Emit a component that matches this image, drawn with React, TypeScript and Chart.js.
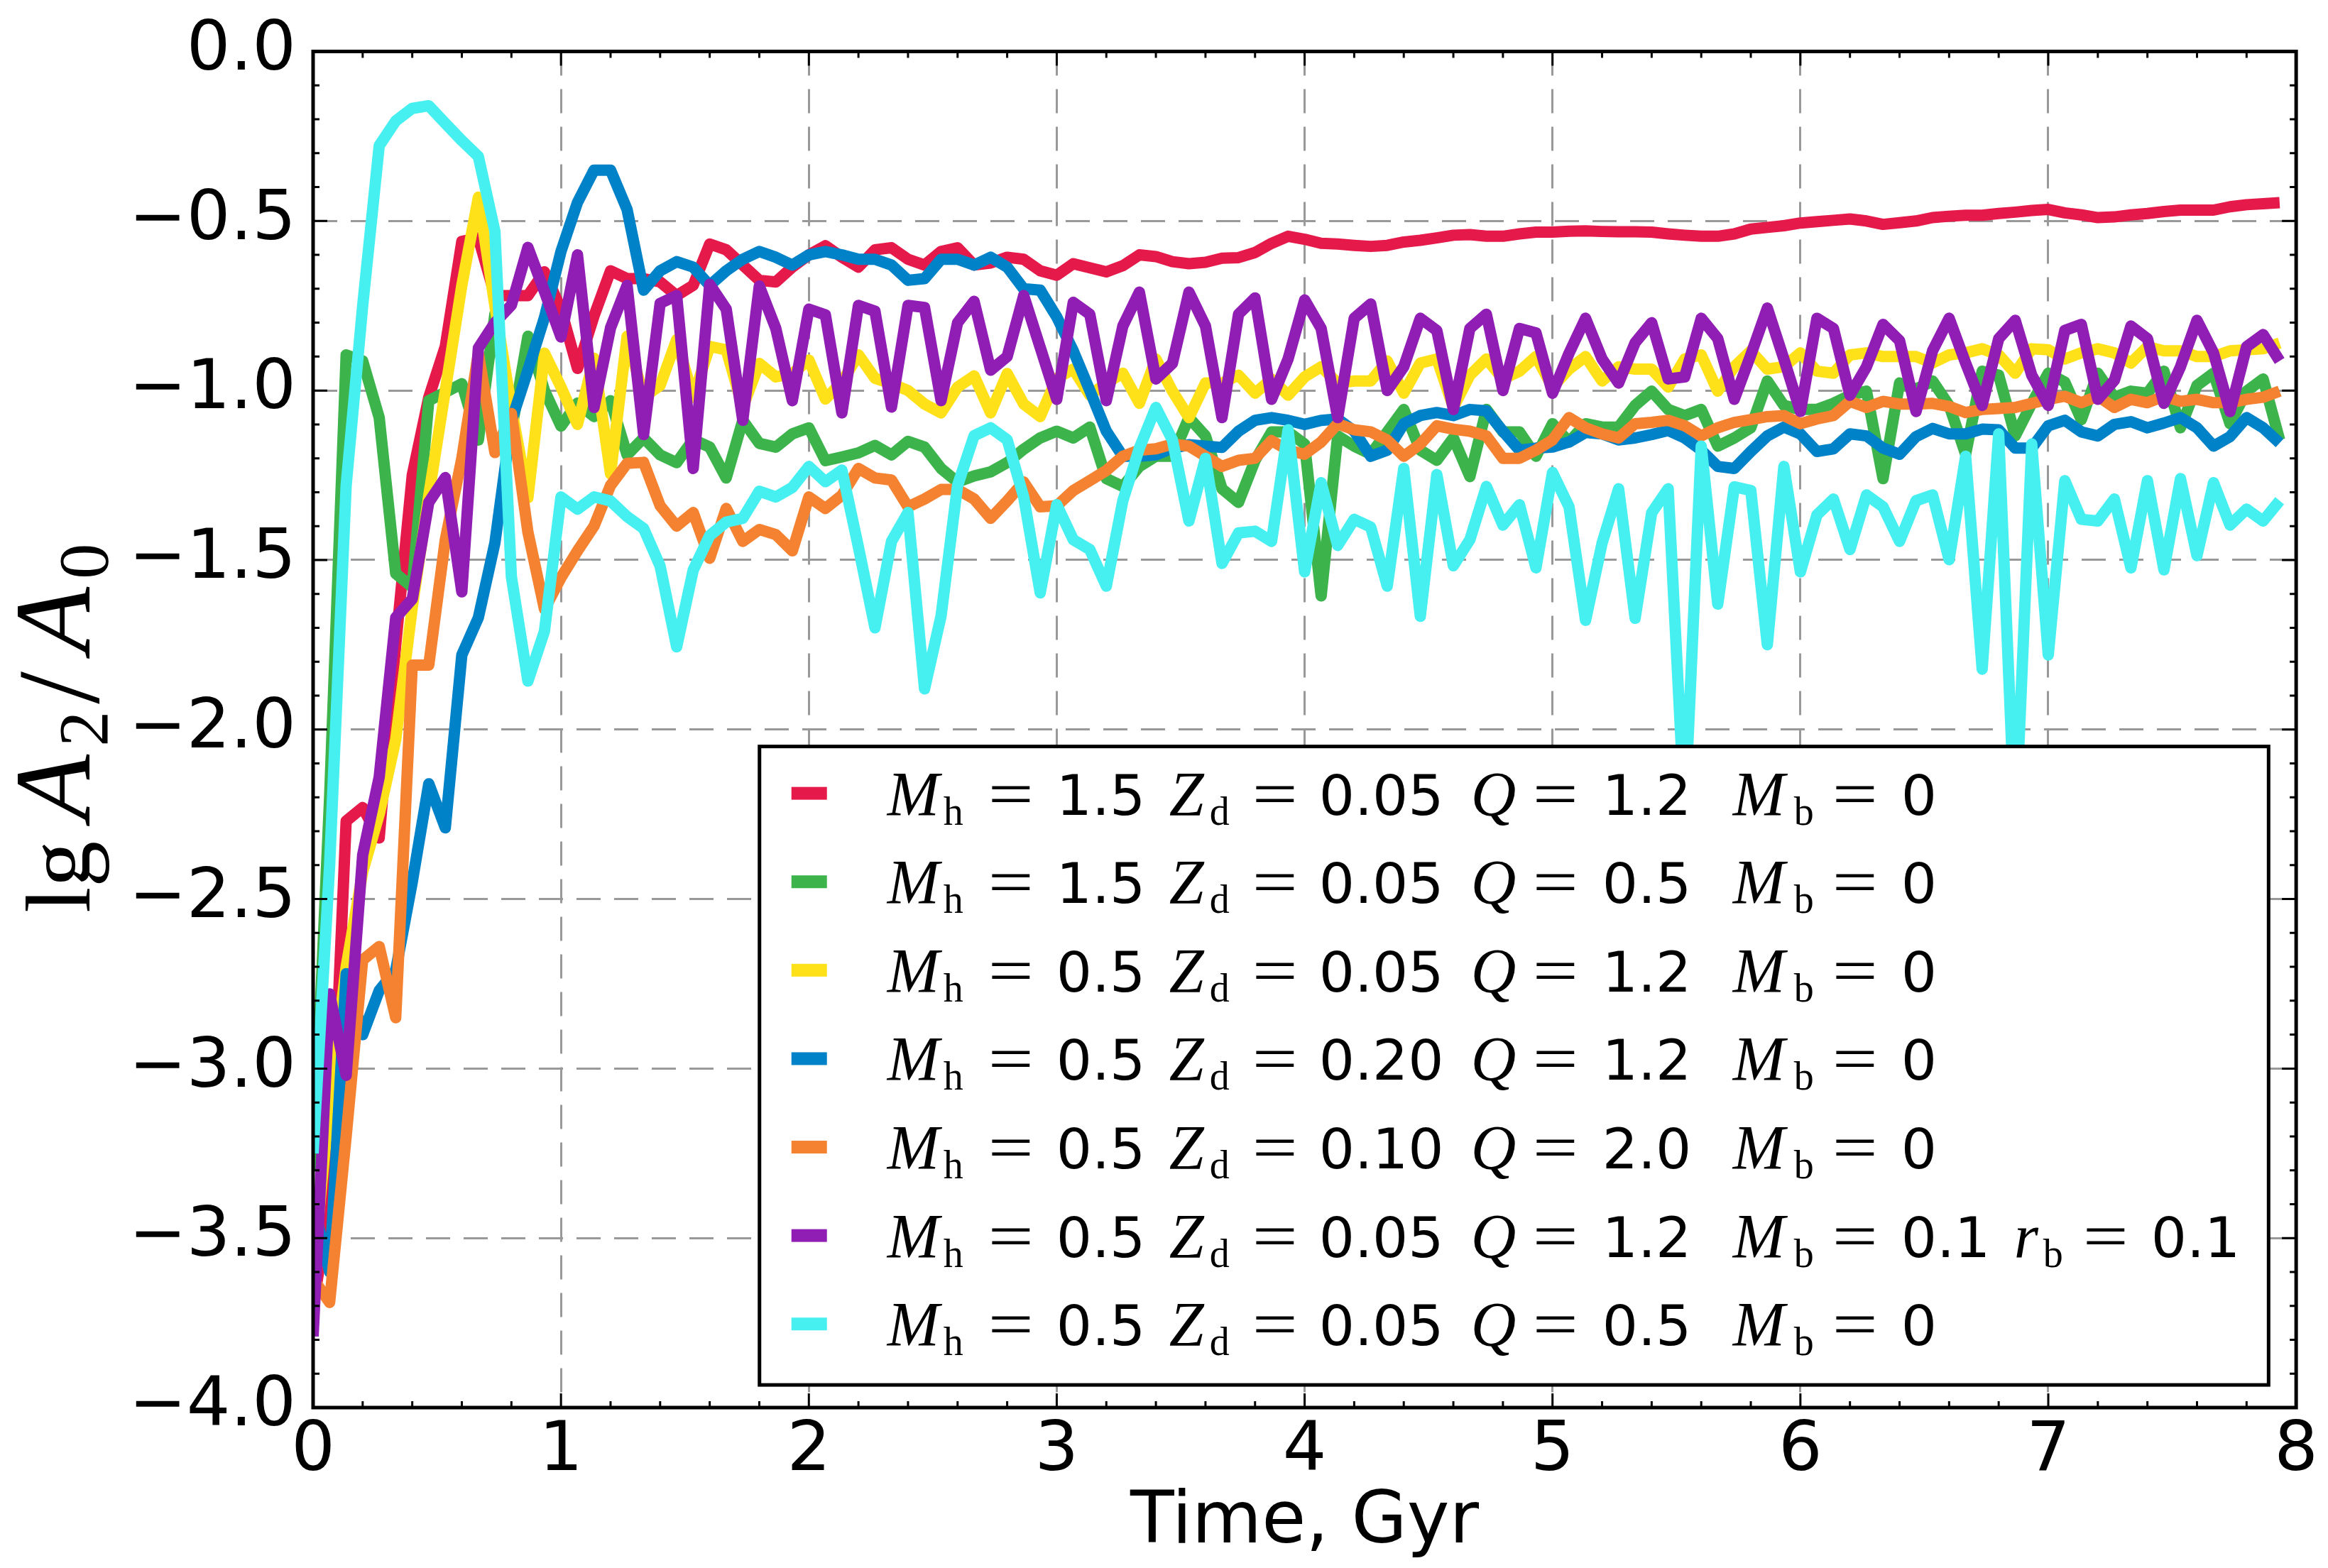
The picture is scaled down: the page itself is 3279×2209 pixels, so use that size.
import React, { useEffect, useRef } from 'react';
import { Chart, registerables } from 'chart.js';

Chart.register(...registerables);

const W = 3279;
const H = 2209;

// sampling step of the simulation output, in Gyr
const TIME_STEP_GYR = 1 / 15;

const X_TICK_LABELS = ['0', '1', '2', '3', '4', '5', '6', '7', '8'];
const Y_TICK_LABELS = ['\u22124.0', '\u22123.5', '\u22123.0', '\u22122.5', '\u22122.0', '\u22121.5', '\u22121.0', '\u22120.5', '0.0'];
const X_TITLE = 'Time, Gyr';

const COLORS = ['#e6194b', '#3cb44b', '#ffe119', '#0082c8', '#f58231', '#911eb4', '#46f0f0'];

const LEG_MH = ['1.5', '1.5', '0.5', '0.5', '0.5', '0.5', '0.5'];
const LEG_ZD = ['0.05', '0.05', '0.05', '0.20', '0.10', '0.05', '0.05'];
const LEG_Q = ['1.2', '0.5', '1.2', '1.2', '2.0', '1.2', '0.5'];
const LEG_MB = ['0', '0', '0', '0', '0', '0.1', '0'];
const LEG_RB = ['', '', '', '', '', '0.1', ''];

const RED = [
  -3.7, -3.4, -2.27, -2.23, -2.32, -1.75, -1.25, -1.02, -0.87, -0.56,
  -0.55, -0.72, -0.72, -0.72, -0.65, -0.76, -0.935, -0.78, -0.647, -0.67,
  -0.67, -0.68, -0.72, -0.69, -0.568, -0.585, -0.63, -0.675, -0.68, -0.636,
  -0.60, -0.573, -0.607, -0.636, -0.585, -0.579, -0.613, -0.63, -0.59, -0.579,
  -0.63, -0.624, -0.607, -0.613, -0.647, -0.66, -0.626, -0.638, -0.65, -0.632,
  -0.60, -0.605, -0.62, -0.626, -0.622, -0.61, -0.608, -0.593, -0.566, -0.545,
  -0.554, -0.566, -0.568, -0.572, -0.575, -0.572, -0.562, -0.557, -0.55, -0.542,
  -0.54, -0.545, -0.545, -0.538, -0.533, -0.533, -0.53, -0.529, -0.531, -0.532,
  -0.532, -0.533, -0.538, -0.542, -0.545, -0.545, -0.538, -0.524, -0.519, -0.514,
  -0.506, -0.502, -0.498, -0.494, -0.50, -0.51, -0.505, -0.50, -0.49, -0.486,
  -0.483, -0.483, -0.478, -0.474, -0.469, -0.466, -0.476, -0.482, -0.49, -0.488,
  -0.482, -0.478, -0.472, -0.468, -0.468, -0.468, -0.458, -0.452, -0.449, -0.446,
];

const GREEN = [
  -3.3, -2.2, -0.895, -0.913, -1.08, -1.54, -1.58, -1.03, -1.005, -0.98,
  -1.146, -0.775, -1.12, -0.84, -1.0, -1.105, -1.037, -1.077, -1.03, -1.19,
  -1.14, -1.19, -1.213, -1.145, -1.167, -1.258, -1.088, -1.156, -1.167, -1.128,
  -1.11, -1.207, -1.196, -1.184, -1.162, -1.19, -1.15, -1.167, -1.23, -1.27,
  -1.252, -1.24, -1.213, -1.173, -1.14, -1.12, -1.14, -1.108, -1.26, -1.283,
  -1.224, -1.194, -1.194, -1.08, -1.134, -1.29, -1.33, -1.206, -1.122, -1.122,
  -1.158, -1.606, -1.134, -1.164, -1.188, -1.122, -1.056, -1.176, -1.206, -1.14,
  -1.254, -1.056, -1.122, -1.122, -1.194, -1.098, -1.152, -1.098, -1.108, -1.108,
  -1.044, -1.002, -1.056, -1.074, -1.056, -1.164, -1.14, -1.11, -0.972, -1.044,
  -1.056, -1.056, -1.038, -1.014, -1.002, -1.26, -0.978, -0.996, -0.972, -1.044,
  -1.188, -0.943, -0.955, -1.134, -1.038, -0.949, -0.975, -1.086, -0.949, -1.02,
  -1.002, -1.008, -0.943, -1.11, -0.985, -0.949, -1.098, -1.002, -0.966, -1.146,
];

const YELLOW = [
  -3.6, -3.1, -2.7, -2.42, -2.25, -2.03, -1.64, -1.31, -1.0, -0.69,
  -0.43, -0.75, -1.05, -1.316, -0.89, -0.99, -1.10, -0.905, -1.246, -0.84,
  -1.02, -0.985, -0.85, -1.02, -0.87, -0.88, -1.05, -0.92, -0.96, -0.95,
  -0.91, -1.025, -0.975, -0.895, -0.964, -0.98, -1.0, -1.04, -1.066, -0.99,
  -0.957, -1.066, -0.95, -1.04, -1.077, -0.964, -0.937, -1.014, -0.978, -0.949,
  -1.038, -0.907, -1.002, -1.08, -0.978, -0.978, -0.955, -1.008, -0.966, -1.014,
  -0.96, -0.93, -0.978, -0.972, -0.972, -0.913, -1.008, -0.919, -0.907, -1.05,
  -0.955, -0.907, -0.966, -0.943, -0.90, -0.99, -0.937, -0.90, -0.972, -0.93,
  -0.937, -0.937, -0.99, -0.907, -0.895, -1.002, -0.93, -0.883, -0.937, -0.93,
  -0.889, -0.943, -0.949, -0.895, -0.889, -0.90, -0.90, -0.90, -0.919, -0.895,
  -0.889, -0.877, -0.895, -0.949, -0.877, -0.88, -0.907, -0.889, -0.877, -0.889,
  -0.919, -0.871, -0.883, -0.883, -0.90, -0.90, -0.883, -0.88, -0.877, -0.86,
];

const BLUE = [
  -3.4, -3.6, -2.72, -2.90, -2.77, -2.71, -2.45, -2.16, -2.29, -1.78,
  -1.67, -1.45, -1.09, -0.94, -0.785, -0.59, -0.445, -0.35, -0.35, -0.466,
  -0.704, -0.647, -0.62, -0.636, -0.69, -0.647, -0.613, -0.59, -0.607, -0.63,
  -0.60, -0.59, -0.60, -0.613, -0.613, -0.63, -0.675, -0.67, -0.613, -0.613,
  -0.63, -0.607, -0.636, -0.70, -0.704, -0.783, -0.883, -1.0, -1.12, -1.194,
  -1.194, -1.19, -1.17, -1.16, -1.164, -1.168, -1.12, -1.088, -1.08, -1.088,
  -1.10, -1.088, -1.084, -1.12, -1.194, -1.176, -1.098, -1.074, -1.065, -1.074,
  -1.056, -1.06, -1.12, -1.176, -1.17, -1.167, -1.152, -1.124, -1.128, -1.146,
  -1.14, -1.13, -1.118, -1.14, -1.176, -1.224, -1.23, -1.18, -1.134, -1.108,
  -1.128, -1.18, -1.172, -1.128, -1.134, -1.17, -1.188, -1.136, -1.112, -1.128,
  -1.128, -1.114, -1.116, -1.17, -1.17, -1.104, -1.088, -1.122, -1.134, -1.10,
  -1.092, -1.11, -1.096, -1.08, -1.11, -1.164, -1.136, -1.08, -1.11, -1.155,
];

const ORANGE = [
  -3.62, -3.69, -3.2, -2.68, -2.64, -2.85, -1.81, -1.81, -1.44, -1.2,
  -0.89, -1.183, -1.068, -1.418, -1.645, -1.552, -1.473, -1.40, -1.28, -1.215,
  -1.212, -1.34, -1.40, -1.36, -1.495, -1.348, -1.445, -1.41, -1.425, -1.473,
  -1.314, -1.348, -1.309, -1.23, -1.258, -1.264, -1.343, -1.32, -1.292, -1.292,
  -1.32, -1.377, -1.326, -1.27, -1.343, -1.34, -1.295, -1.266, -1.236, -1.194,
  -1.176, -1.172, -1.158, -1.164, -1.194, -1.224, -1.206, -1.20, -1.148, -1.176,
  -1.188, -1.152, -1.098, -1.116, -1.122, -1.146, -1.194, -1.158, -1.104, -1.114,
  -1.12, -1.134, -1.20, -1.20, -1.176, -1.146, -1.08, -1.11, -1.128, -1.14,
  -1.098, -1.094, -1.088, -1.104, -1.134, -1.11, -1.094, -1.086, -1.077, -1.074,
  -1.098, -1.084, -1.074, -1.032, -1.05, -1.032, -1.04, -1.04, -1.038, -1.047,
  -1.065, -1.056, -1.053, -1.05, -1.038, -1.026, -1.017, -1.036, -1.017, -1.05,
  -1.026, -1.036, -1.017, -1.032, -1.026, -1.036, -1.036, -1.026, -1.02, -1.002,
];

const PURPLE = [
  -3.79, -2.78, -3.02, -2.37, -2.14, -1.67, -1.615, -1.33, -1.257, -1.594,
  -0.875, -0.80, -0.748, -0.578, -0.708, -0.842, -0.60, -1.05, -0.815, -0.69,
  -1.13, -0.743, -0.72, -1.23, -0.687, -0.76, -1.088, -0.692, -0.817, -1.03,
  -0.76, -0.777, -1.066, -0.749, -0.766, -1.049, -0.749, -0.755, -1.03, -0.80,
  -0.737, -0.94, -0.90, -0.72, -0.873, -1.026, -0.74, -0.775, -1.03, -0.81,
  -0.71, -0.966, -0.92, -0.71, -0.81, -1.08, -0.775, -0.727, -1.026, -0.907,
  -0.733, -0.817, -1.08, -0.787, -0.745, -1.0, -0.93, -0.787, -0.823, -1.056,
  -0.817, -0.775, -1.0, -0.817, -0.83, -1.008, -0.89, -0.787, -0.907, -0.978,
  -0.859, -0.80, -0.966, -0.96, -0.787, -0.847, -1.026, -0.895, -0.757, -0.907,
  -1.062, -0.787, -0.817, -1.014, -0.93, -0.805, -0.853, -1.062, -0.883, -0.787,
  -0.919, -1.044, -0.847, -0.793, -0.955, -1.044, -0.823, -0.805, -1.026, -0.97,
  -0.81, -0.847, -1.038, -0.93, -0.793, -0.889, -1.062, -0.871, -0.835, -0.913,
];

const CYAN = [
  -3.25, -2.4, -1.28, -0.75, -0.278, -0.205, -0.168, -0.16, -0.212, -0.263,
  -0.31, -0.53, -1.55, -1.857, -1.71, -1.314, -1.35, -1.314, -1.326, -1.372,
  -1.407, -1.518, -1.756, -1.53, -1.428, -1.388, -1.377, -1.297, -1.314, -1.286,
  -1.224, -1.269, -1.235, -1.462, -1.70, -1.445, -1.36, -1.88, -1.665, -1.28,
  -1.133, -1.11, -1.145, -1.314, -1.597, -1.337, -1.44, -1.469, -1.577, -1.325,
  -1.17, -1.05, -1.146, -1.385, -1.20, -1.51, -1.42, -1.415, -1.445, -1.116,
  -1.535, -1.272, -1.457, -1.38, -1.403, -1.577, -1.23, -1.666, -1.248, -1.517,
  -1.44, -1.283, -1.397, -1.337, -1.523, -1.242, -1.343, -1.678, -1.45, -1.29,
  -1.672, -1.361, -1.29, -2.25, -1.164, -1.63, -1.284, -1.295, -1.75, -1.224,
  -1.535, -1.367, -1.32, -1.469, -1.308, -1.343, -1.445, -1.325, -1.308, -1.499,
  -1.194, -1.822, -1.128, -2.3, -1.158, -1.78, -1.266, -1.38, -1.385, -1.32,
  -1.523, -1.266, -1.529, -1.26, -1.487, -1.272, -1.397, -1.35, -1.385, -1.325,
];

const SERIES = [RED, GREEN, YELLOW, BLUE, ORANGE, PURPLE, CYAN];

const TICK_FONT = '"DejaVu Sans", sans-serif';
const SERIF = '"Liberation Serif", "DejaVu Serif", serif';

function run(ctx: CanvasRenderingContext2D, text: string, x: number, y: number, font: string) {
  ctx.font = font;
  ctx.fillText(text, x, y);
}

// draws a text run stretched horizontally to a given advance width
function runStretched(ctx: CanvasRenderingContext2D, text: string, x: number, y: number, font: string, targetW: number) {
  ctx.font = font;
  const w = ctx.measureText(text).width || 1;
  ctx.save();
  ctx.translate(x, y);
  ctx.scale(targetW / w, 1);
  ctx.fillText(text, 0, 0);
  ctx.restore();
}

const framePlugin = {
  id: 'frameTicksLegend',
  afterDatasetsDraw(chart: any) {
    const { ctx, chartArea, scales } = chart;
    const { left, right, top, bottom } = chartArea;
    const xs = scales.x;
    const ys = scales.y;
    ctx.save();
    ctx.strokeStyle = '#000';
    ctx.lineWidth = 3;
    ctx.setLineDash([]);
    ctx.beginPath();
    for (let k = 1; k < 40; k++) {
      const px = xs.getPixelForValue(k * 0.2);
      const len = k % 5 === 0 ? 20 : 9;
      ctx.moveTo(px, bottom);
      ctx.lineTo(px, bottom - len);
      ctx.moveTo(px, top);
      ctx.lineTo(px, top + len);
    }
    for (let k = 1; k < 40; k++) {
      const py = ys.getPixelForValue(-4 + k * 0.1);
      const len = k % 5 === 0 ? 20 : 9;
      ctx.moveTo(left, py);
      ctx.lineTo(left + len, py);
      ctx.moveTo(right, py);
      ctx.lineTo(right - len, py);
    }
    ctx.stroke();
    ctx.lineWidth = 5;
    ctx.strokeRect(left, top, right - left, bottom - top);

    // legend
    const aw = right - left;
    const ah = bottom - top;
    const bx = left + 0.2251 * aw;
    const by = top + 0.5125 * ah;
    const bw = 0.7610 * aw;
    const bh = 0.4708 * ah;
    ctx.fillStyle = '#fff';
    ctx.fillRect(bx, by, bw, bh);
    ctx.lineWidth = 5;
    ctx.strokeStyle = '#000';
    ctx.strokeRect(bx, by, bw, bh);

    const fLetter = `italic 88px ${SERIF}`;
    const fSub = `56px ${SERIF}`;
    const fEq = `88px ${SERIF}`;
    const fNum = `79px ${TICK_FONT}`;
    const eqW = 64;
    ctx.textAlign = 'left';
    ctx.textBaseline = 'alphabetic';
    for (let k = 0; k < SERIES.length; k++) {
      const cy = by + 66 + k * 124.6;
      const base = cy + 30;
      ctx.fillStyle = COLORS[k];
      ctx.fillRect(bx + 45, cy - 9, 50, 18);
      ctx.fillStyle = '#000';
      run(ctx, 'M', bx + 180, base, fLetter);
      run(ctx, 'h', bx + 259, base + 14, fSub);
      runStretched(ctx, '=', bx + 322, base, fEq, eqW);
      run(ctx, LEG_MH[k], bx + 418, base, fNum);
      run(ctx, 'Z', bx + 577, base, fLetter);
      run(ctx, 'd', bx + 634, base + 14, fSub);
      runStretched(ctx, '=', bx + 694, base, fEq, eqW);
      run(ctx, LEG_ZD[k], bx + 788, base, fNum);
      run(ctx, 'Q', bx + 1002, base, fLetter);
      runStretched(ctx, '=', bx + 1089, base, fEq, eqW);
      run(ctx, LEG_Q[k], bx + 1187, base, fNum);
      run(ctx, 'M', bx + 1371, base, fLetter);
      run(ctx, 'b', bx + 1457, base + 14, fSub);
      runStretched(ctx, '=', bx + 1511, base, fEq, eqW);
      run(ctx, LEG_MB[k], bx + 1608, base, fNum);
      if (LEG_RB[k]) {
        run(ctx, 'r', bx + 1767, base, fLetter);
        run(ctx, 'b', bx + 1808, base + 14, fSub);
        runStretched(ctx, '=', bx + 1864, base, fEq, eqW);
        run(ctx, LEG_RB[k], bx + 1960, base, fNum);
      }
    }
    ctx.restore();
  },
  afterDraw(chart: any) {
    const { ctx, chartArea } = chart;
    const { left, right, top, bottom } = chartArea;
    ctx.save();
    ctx.fillStyle = '#000';
    // x title
    ctx.textAlign = 'center';
    ctx.textBaseline = 'alphabetic';
    ctx.font = `101px ${TICK_FONT}`;
    ctx.fillText(X_TITLE, (left + right) / 2, bottom + 190);
    // y title (rotated)
    ctx.translate(126, (top + bottom) / 2);
    ctx.rotate(-Math.PI / 2);
    ctx.textAlign = 'left';
    const s = -258;
    run(ctx, 'lg', s, 0, `130px ${SERIF}`);
    run(ctx, 'A', s + 130, 0, `italic 152px ${SERIF}`);
    run(ctx, '2', s + 234, 25, `100px ${SERIF}`);
    run(ctx, '/', s + 294, 12, `165px ${SERIF}`);
    run(ctx, 'A', s + 366, 0, `italic 152px ${SERIF}`);
    run(ctx, '0', s + 470, 25, `100px ${SERIF}`);
    ctx.restore();
  },
};

export default function App() {
  const ref = useRef<HTMLCanvasElement>(null);
  useEffect(() => {
    const canvas = ref.current;
    if (!canvas) return;
    const datasets = SERIES.map((vals, k) => ({
      data: vals.map((v, i) => ({ x: i * TIME_STEP_GYR, y: v })),
      borderColor: COLORS[k],
      backgroundColor: COLORS[k],
      borderWidth: 16,
      pointRadius: 0,
      pointHoverRadius: 0,
      tension: 0,
      fill: false,
      borderJoinStyle: 'round' as const,
      borderCapStyle: 'butt' as const,
      clip: 0,
      order: SERIES.length - k,
    }));
    const gridColor = (edgeA: number, edgeB: number) => (c: any) =>
      c.tick && (Math.abs(c.tick.value - edgeA) < 1e-9 || Math.abs(c.tick.value - edgeB) < 1e-9)
        ? 'rgba(0,0,0,0)'
        : '#999999';
    const chart = new Chart(canvas, {
      type: 'line',
      data: { datasets },
      plugins: [framePlugin],
      options: {
        animation: false,
        responsive: false,
        devicePixelRatio: 1,
        events: [],
        layout: { padding: { left: 0, right: 35, top: 63, bottom: 0 } },
        plugins: { legend: { display: false }, tooltip: { enabled: false }, title: { display: false } },
        scales: {
          x: {
            type: 'linear',
            min: 0,
            max: 8,
            afterFit: (s: any) => { s.height = 226; },
            ticks: {
              stepSize: 1,
              autoSkip: false,
              maxRotation: 0,
              padding: 14,
              color: '#000',
              font: { family: TICK_FONT, size: 97, lineHeight: 1 },
              callback: (v: any) => X_TICK_LABELS[Math.round(Number(v))] ?? '',
            },
            grid: { color: gridColor(0, 8), lineWidth: 3, drawTicks: false },
            border: { display: false, dash: [34, 19] },
          },
          y: {
            type: 'linear',
            min: -4,
            max: 0,
            afterFit: (s: any) => { s.width = 441; },
            ticks: {
              stepSize: 0.5,
              autoSkip: false,
              padding: 24,
              color: '#000',
              font: { family: TICK_FONT, size: 97, lineHeight: 1 },
              callback: (v: any) => Y_TICK_LABELS[Math.round((Number(v) + 4) / 0.5)] ?? '',
            },
            grid: { color: gridColor(-4, 0), lineWidth: 3, drawTicks: false },
            border: { display: false, dash: [34, 19] },
          },
        },
      } as any,
    });
    return () => chart.destroy();
  }, []);
  return (
    <div style={{ position: 'fixed', left: 0, top: 0, width: W, height: H, background: '#fff' }}>
      <canvas ref={ref} width={W} height={H} style={{ width: W, height: H, display: 'block' }} />
    </div>
  );
}
